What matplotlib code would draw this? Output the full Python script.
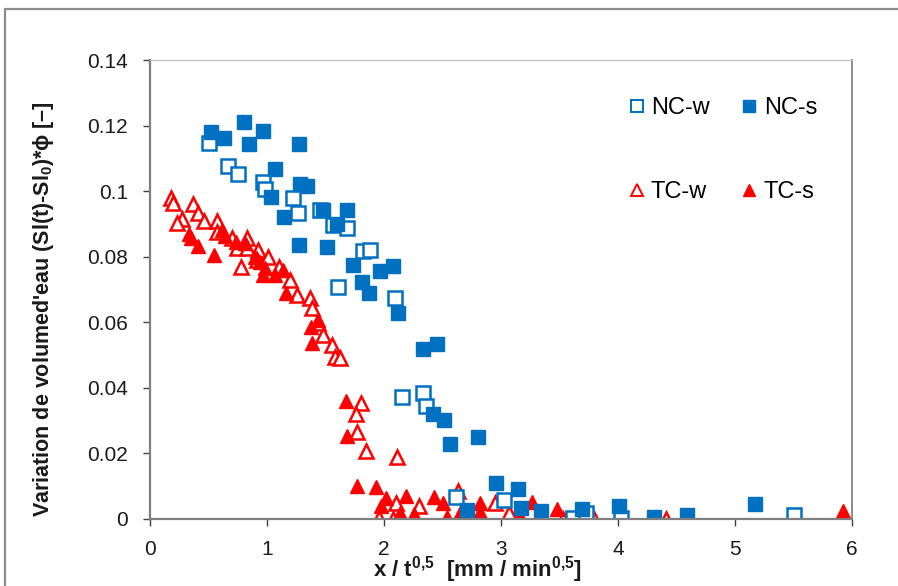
import matplotlib
matplotlib.use("Agg")
import matplotlib.pyplot as plt
from matplotlib.lines import Line2D
from matplotlib.patches import Rectangle

plt.rcParams["font.family"] = ["Liberation Sans", "DejaVu Sans"]
plt.rcParams["mathtext.fontset"] = "custom"
plt.rcParams["mathtext.rm"] = "Liberation Sans"
plt.rcParams["mathtext.bf"] = "Liberation Sans:bold"

BLUE = "#0070C0"
RED = "#FF0000"

# NC-w (open squares)
nc_w_x = [0.504, 0.667, 0.752, 0.966, 0.983, 1.222, 1.265, 1.453, 1.564, 1.684,
          1.821, 1.880, 1.607, 2.094, 2.154, 2.333, 2.359, 2.615, 3.026, 3.615,
          3.726, 4.026, 5.504]
nc_w_y = [0.1147, 0.1077, 0.1052, 0.1028, 0.1007, 0.0979, 0.0933, 0.0942, 0.0897, 0.0888,
          0.0817, 0.0820, 0.0708, 0.0674, 0.0372, 0.0384, 0.0345, 0.0067, 0.0058, 0.0003,
          0.0018, 0.0003, 0.0012]

# NC-s (filled squares)
nc_s_x = [0.521, 0.632, 0.803, 0.966, 0.846, 1.274, 1.068, 1.282, 1.342, 1.034,
          1.145, 1.479, 1.684, 1.598, 1.274, 1.513, 1.735, 1.966, 2.077, 1.812,
          1.872, 2.120, 2.333, 2.453, 2.419, 2.513, 2.564, 2.803, 2.957, 3.145,
          3.171, 3.342, 2.709, 3.692, 4.008, 4.308, 4.590, 5.171]
nc_s_y = [0.1180, 0.1162, 0.1211, 0.1183, 0.1144, 0.1144, 0.1068, 0.1022, 0.1016, 0.0982,
          0.0921, 0.0942, 0.0942, 0.0900, 0.0836, 0.0830, 0.0775, 0.0756, 0.0772, 0.0723,
          0.0689, 0.0628, 0.0519, 0.0534, 0.0320, 0.0302, 0.0229, 0.0250, 0.0110, 0.0092,
          0.0034, 0.0024, 0.0027, 0.0030, 0.0040, 0.0006, 0.0012, 0.0046]

# TC-w (open triangles)
tc_w_x = [0.179, 0.197, 0.368, 0.410, 0.274, 0.231, 0.462, 0.573, 0.573, 0.701,
          0.829, 0.744, 0.829, 0.923, 0.778, 1.009, 0.915, 1.103, 1.197, 1.256,
          1.368, 1.385, 1.436, 1.479, 1.556, 1.581, 1.624, 1.803, 1.761, 1.769,
          1.846, 2.111, 2.632, 2.103, 2.299, 1.957, 2.077, 2.949, 3.068, 3.530,
          3.795, 4.410]
tc_w_y = [0.0979, 0.0964, 0.0961, 0.0933, 0.0915, 0.0903, 0.0909, 0.0909, 0.0875, 0.0857,
          0.0857, 0.0827, 0.0827, 0.0820, 0.0769, 0.0799, 0.0790, 0.0769, 0.0729, 0.0683,
          0.0674, 0.0644, 0.0598, 0.0561, 0.0531, 0.0494, 0.0491, 0.0354, 0.0320, 0.0265,
          0.0207, 0.0189, 0.0085, 0.0049, 0.0040, 0.0003, 0.0000, 0.0049, 0.0018, 0.0000,
          0.0000, 0.0000]

# TC-s (filled triangles)
tc_s_x = [0.333, 0.350, 0.410, 0.547, 0.615, 0.641, 0.735, 0.812, 0.897, 0.940,
          0.983, 0.966, 1.068, 1.137, 1.162, 1.376, 1.385, 1.436, 1.675, 1.684,
          1.769, 1.932, 2.017, 2.188, 1.974, 2.137, 2.256, 2.427, 2.504, 2.538,
          2.650, 2.821, 2.821, 3.162, 3.265, 3.479, 4.026, 5.923]
tc_s_y = [0.0869, 0.0857, 0.0833, 0.0805, 0.0881, 0.0863, 0.0845, 0.0842, 0.0799, 0.0784,
          0.0766, 0.0744, 0.0744, 0.0759, 0.0689, 0.0586, 0.0537, 0.0607, 0.0360, 0.0253,
          0.0101, 0.0098, 0.0064, 0.0070, 0.0040, 0.0018, 0.0015, 0.0067, 0.0049, 0.0006,
          0.0018, 0.0049, 0.0021, 0.0009, 0.0052, 0.0030, 0.0012, 0.0024]

x_ticks = [0, 1, 2, 3, 4, 5, 6]
y_ticks = [0, 0.02, 0.04, 0.06, 0.08, 0.1, 0.12, 0.14]
y_tick_labels = ["0", "0.02", "0.04", "0.06", "0.08", "0.1", "0.12", "0.14"]


def main() -> None:
    fig = plt.figure(figsize=(8.98, 5.86), dpi=100)
    fig.patches.append(Rectangle((5 / 898, -0.01), 1.0, 1 - 9 / 586 + 0.01,
                                 transform=fig.transFigure, fill=False,
                                 edgecolor="#8c8c8c", linewidth=1.6))
    ax = fig.add_axes([150 / 898, 67 / 586, 702 / 898, 459 / 586])

    ms = 9.5
    ax.plot(tc_w_x, tc_w_y, ls="none", marker="^", ms=ms + 1, mfc="white", mec=RED, mew=1.8)
    ax.plot(tc_s_x, tc_s_y, ls="none", marker="^", ms=ms + 1, mfc=RED, mec=RED, mew=1.0)
    ax.plot(nc_w_x, nc_w_y, ls="none", marker="s", ms=ms, mfc="white", mec=BLUE, mew=1.8)
    ax.plot(nc_s_x, nc_s_y, ls="none", marker="s", ms=ms, mfc=BLUE, mec=BLUE, mew=1.0)

    ax.set_xlim(0, 6)
    ax.set_ylim(0, 0.14)
    ax.set_xticks(x_ticks)
    ax.set_yticks(y_ticks)
    ax.set_yticklabels(y_tick_labels)
    ax.tick_params(direction="out", length=5, width=1, color="#404040",
                   labelsize=15, labelcolor="#1a1a1a")
    ax.tick_params(axis="x", pad=10)
    ax.tick_params(axis="y", pad=11)

    for side in ["left", "bottom"]:
        ax.spines[side].set_color("#7f7f7f")
        ax.spines[side].set_linewidth(1.6)
    ax.spines["top"].set_color("#bfbfbf")
    ax.spines["right"].set_color("#8c8c8c")
    ax.spines["right"].set_linewidth(1.4)

    ax.set_xlabel(r"x / t$^{\mathbf{0{,}5}}$  [mm / min$^{\mathbf{0{,}5}}$]",
                  fontsize=16, fontweight="bold", color="#1a1a1a")
    ax.xaxis.set_label_coords((477 - 150) / 702, (519 - 554) / 459)
    ax.set_ylabel("Variation de volumed'eau (Sl(t)-Sl$_{\\mathbf{0}}$)*\u03d5 [\u2013]",
                  fontsize=15.5, fontweight="bold", color="#1a1a1a")
    ax.yaxis.set_label_coords((56 - 150) / 702, (519 - 309) / 459)

    handles = [
        Line2D([], [], ls="none", marker="s", ms=8, mfc="white", mec=BLUE, mew=1.4),
        Line2D([], [], ls="none", marker="^", ms=8, mfc="white", mec=RED, mew=1.4),
        Line2D([], [], ls="none", marker="s", ms=8, mfc=BLUE, mec=BLUE),
        Line2D([], [], ls="none", marker="^", ms=8, mfc=RED, mec=RED),
    ]
    labels = ["NC-w", "TC-w", "NC-s", "TC-s"]
    ax.legend(handles, labels, ncol=2, frameon=False, fontsize=17,
              loc="upper left", bbox_to_anchor=((620 - 150) / 702, (519 - 88) / 459),
              handlelength=0.6, handletextpad=0.3, columnspacing=1.4,
              labelspacing=2.6, borderaxespad=0)

    fig.savefig("out.png", dpi=100)
    plt.close(fig)


if __name__ == "__main__":
    main()
